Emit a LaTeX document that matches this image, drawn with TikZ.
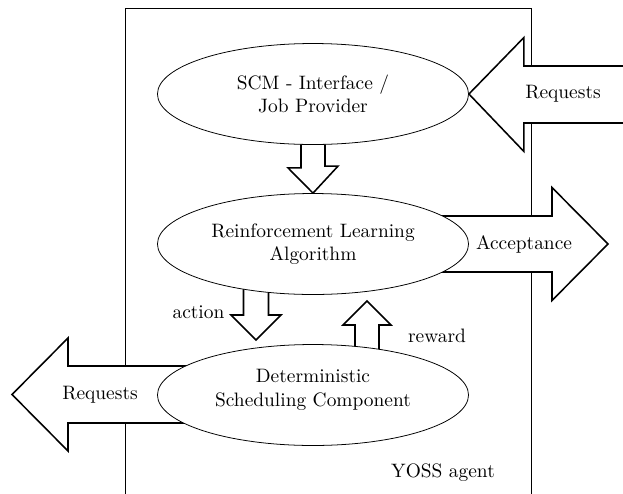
\documentclass[tikz,border=0pt]{standalone}
\usetikzlibrary{calc,shapes.geometric}
\pgfdeclarelayer{bg}
\pgfsetlayers{bg,main}
\begin{document}
\begin{tikzpicture}[x=0.515pt, y=-0.515pt,
  ell/.style={draw, ellipse, fill=white, line width=0.4pt, minimum width=160.2pt, minimum height=52pt, inner sep=0pt, align=center},
  blk/.style={draw, fill=white, line width=0.8pt, line join=miter},
  frame/.style={draw, line width=0.4pt},
  lbl/.style={inner sep=0pt, align=center}]
\useasboundingbox (0,0) rectangle (623,493);
\clip (0,0) rectangle (623,493);

% ellipses (main layer, on top)
\node[ell] (scm) at (313,94) {SCM - Interface /\\Job Provider};
\node[ell] (rl) at (313,244) {Reinforcement Learning\\Algorithm};
\node[ell] (dsc) at (313,395) {};
\node[lbl] (dsctext) at (313,390) {Deterministic\\Scheduling Component};

% tips of free-standing arrows
\coordinate (acttip) at (256,340);
\coordinate (rwtip) at (367,301);
\coordinate (acctip) at (608,244);
\coordinate (lreqtip) at (12,394.5);

\begin{pgfonlayer}{bg}
  % agent frame
  \draw[frame] (125,510) -- (125,8) -- (531,8) -- (531,510);
  % SCM -> RL
  \draw[blk] ($(scm.south)+(-12,-10)$) -- ++(0,33) -- ++(-13,0) -- (rl.north)
     -- ++(25,-27) -- ++(-13,0) -- ++(0,-33) -- cycle;
  % action
  \draw[blk] (243.5,280) -- (243.5,315) -- (231,315) -- (acttip) -- (281,315)
     -- (268.5,315) -- (268.5,280) -- cycle;
  % reward
  \draw[blk] (355,360) -- (355,325) -- (343,325) -- (rwtip) -- (391,325)
     -- (379,325) -- (379,360) -- cycle;
  % incoming requests
  \draw[blk] (scm.east) -- ++(55,-56.5) -- ++(0,28.5) -- ++(130,0) -- ++(0,57)
     -- ++(-130,0) -- ++(0,28.5) -- cycle;
  % acceptance
  \draw[blk] (430,216) -- (552,216) -- (552,187.5) -- (acctip) -- (552,300.5)
     -- (552,272) -- (430,272) -- cycle;
  % outgoing requests
  \draw[blk] (200,366) -- (68,366) -- (68,338) -- (lreqtip) -- (68,451)
     -- (68,423) -- (200,423) -- cycle;
\end{pgfonlayer}

\node[lbl] (reqin) at (563,94) {Requests};
\node[lbl] (acc) at (524,244) {Acceptance};
\node[lbl] (reqout) at (100,394.5) {Requests};
\node[lbl] (act) at (198.5,312) {action};
\node[lbl] (rew) at (437,336) {reward};
\node[lbl] (yoss) at (443,473) {YOSS agent};
\end{tikzpicture}
\end{document}
